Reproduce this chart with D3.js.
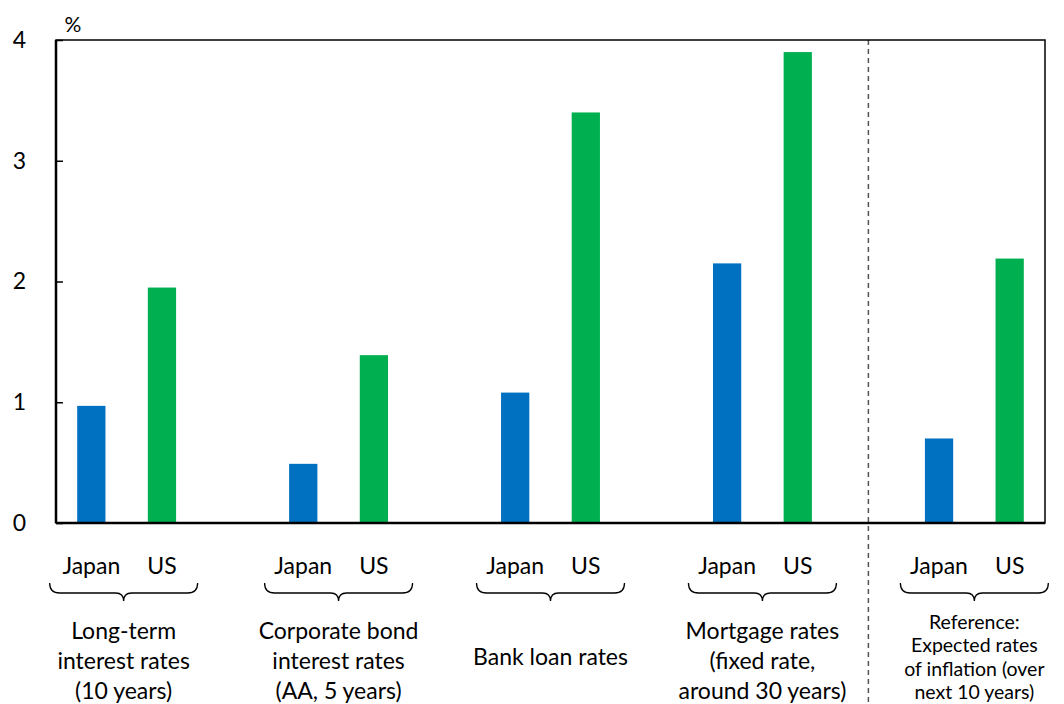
<!DOCTYPE html>
<html><head><meta charset="utf-8">
<script src="https://cdn.jsdelivr.net/npm/d3@7"></script>
<style>body{margin:0;background:#fff}</style>
</head><body>
<svg id="c" width="1064" height="704"></svg>
<script>
const slots = ["J1","U1","g1","J2","U2","g2","J3","U3","g3","J4","U4","g4","J5","U5"];
const groups = [
  {j:"J1",u:"U1",lines:["Long-term","interest rates","(10 years)"]},
  {j:"J2",u:"U2",lines:["Corporate bond","interest rates","(AA, 5 years)"]},
  {j:"J3",u:"U3",lines:["Bank loan rates"]},
  {j:"J4",u:"U4",lines:["Mortgage rates","(fixed rate,","around 30 years)"]},
  {j:"J5",u:"U5",lines:["Reference:","Expected rates","of inflation (over","next 10 years)"]}
];
const japanValues = [0.97, 0.49, 1.08, 2.15, 0.70];
const usValues = [1.95, 1.39, 3.40, 3.90, 2.19];
const yTicks = [0,1,2,3,4];
const countryLabels = ["Japan","US"];

const font = "Lato, 'Liberation Sans', sans-serif";
const svg = d3.select("#c");
const L=56, R=1045, T=40, B=523;
const x = d3.scaleBand().domain(slots).range([L,R]).paddingInner(0).paddingOuter(0);
const y = d3.scaleLinear().domain([0,4]).range([B,T]);
const bw = x.bandwidth()*0.4;

const bars = [];
groups.forEach((g,i)=>{
  bars.push({k:g.j,v:japanValues[i],c:"#0070C0"});
  bars.push({k:g.u,v:usValues[i],c:"#00B050"});
});
svg.selectAll("rect.bar").data(bars).enter().append("rect")
  .attr("x",d=>x(d.k)+x.bandwidth()/2-bw/2).attr("width",bw)
  .attr("y",d=>y(d.v)).attr("height",d=>B-y(d.v)).attr("fill",d=>d.c);

// dashed separator
const sepX = x("g4")+x.bandwidth()/2;
svg.append("line").attr("x1",sepX).attr("x2",sepX).attr("y1",T).attr("y2",704)
  .attr("stroke","#555").attr("stroke-width",1.5).attr("stroke-dasharray","5,4");

// frame
svg.append("rect").attr("x",L).attr("y",T).attr("width",R-L).attr("height",B-T)
  .attr("fill","none").attr("stroke","#000").attr("stroke-width",1.5);
svg.append("line").attr("x1",L).attr("x2",R).attr("y1",B).attr("y2",B).attr("stroke","#000").attr("stroke-width",2.5);
svg.append("line").attr("x1",L).attr("x2",L).attr("y1",T).attr("y2",B).attr("stroke","#000").attr("stroke-width",2.5);

// y axis
const ya = d3.axisLeft(y).tickValues(yTicks).tickSize(-7).tickPadding(30).tickFormat(d3.format("d"));
const yg = svg.append("g").attr("transform",`translate(${L},0)`).call(ya);
yg.select(".domain").remove();
yg.selectAll("line").attr("stroke","#000").attr("stroke-width",1.5);
yg.selectAll("text").attr("font-family",font).attr("font-size",23).attr("fill","#000");
svg.append("text").attr("x",73).attr("y",32).attr("text-anchor","middle")
  .attr("font-family",font).attr("font-size",21).text("%");

// labels
groups.forEach((g,i)=>{
  [g.j,g.u].forEach((k,ci)=>{
    svg.append("text").attr("x",x(k)+x.bandwidth()/2).attr("y",574).attr("text-anchor","middle")
      .attr("font-family",font).attr("font-size",23).text(countryLabels[ci]);
  });
  const cx = x(g.j)+x.bandwidth() - (i===0?3:0);
  const hw = 74, yt = 583, ym = 593, yb = 601;
  const p = `M${cx-hw},${yt} Q${cx-hw},${ym} ${cx-hw+10},${ym} L${cx-8},${ym} Q${cx},${ym} ${cx},${yb} Q${cx},${ym} ${cx+8},${ym} L${cx+hw-10},${ym} Q${cx+hw},${ym} ${cx+hw},${yt}`;
  svg.append("path").attr("d",p).attr("fill","none").attr("stroke","#000").attr("stroke-width",1.3);
  let ys, fs = 23;
  if (g.lines.length===1) ys=[665];
  else if (g.lines.length===3) ys=[639,669,699];
  else { ys=[629,652,676,699]; fs = 19.5; }
  g.lines.forEach((t,li)=>{
    svg.append("text").attr("x",cx).attr("y",ys[li]).attr("text-anchor","middle")
      .attr("font-family",font).attr("font-size",fs).text(t);
  });
});
</script>
</body></html>
